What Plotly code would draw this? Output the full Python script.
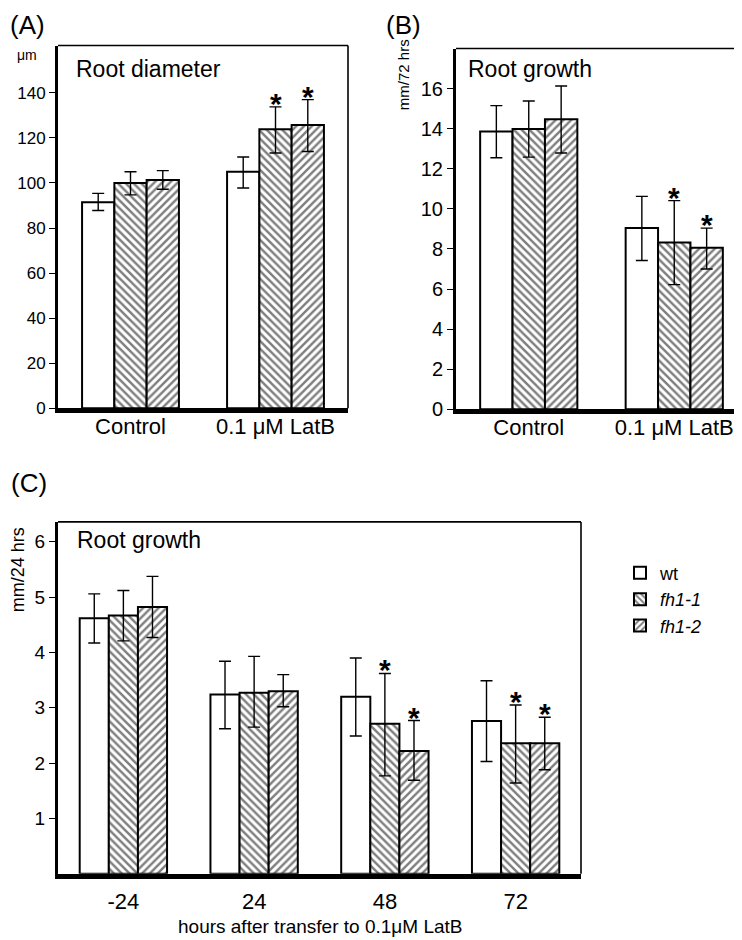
import plotly.graph_objects as go

W, H = 742, 940

# ---------------- data ----------------
series_names = ["wt", "<i>fh1-1</i>", "<i>fh1-2</i>"]

# Panel A: root diameter (µm)
A_cats = ["Control", "0.1 μM LatB"]
A_wt = [91.5, 105.0]
A_wt_hi = [95.4, 111.5]
A_wt_lo = [87.8, 97.8]
A_fh11 = [100.0, 123.8]
A_fh11_hi = [105.0, 133.8]
A_fh11_lo = [94.7, 113.3]
A_fh12 = [101.3, 125.7]
A_fh12_hi = [105.5, 137.0]
A_fh12_lo = [97.2, 114.0]
A_sig = [[False, False], [False, True], [False, True]]
A_ticks = [0, 20, 40, 60, 80, 100, 120, 140]

# Panel B: root growth (mm/72 hrs)
B_cats = ["Control", "0.1 μM LatB"]
B_wt = [13.86, 9.04]
B_wt_hi = [15.15, 10.62]
B_wt_lo = [12.55, 7.42]
B_fh11 = [13.98, 8.32]
B_fh11_hi = [15.38, 10.41]
B_fh11_lo = [12.58, 6.22]
B_fh12 = [14.47, 8.06]
B_fh12_hi = [16.13, 9.04]
B_fh12_lo = [12.79, 7.0]
B_sig = [[False, False], [False, True], [False, True]]
B_ticks = [0, 2, 4, 6, 8, 10, 12, 14, 16]

# Panel C: root growth (mm/24 hrs) vs hours after transfer
C_cats = ["-24", "24", "48", "72"]
C_wt = [4.62, 3.24, 3.20, 2.76]
C_wt_hi = [5.06, 3.84, 3.90, 3.49]
C_wt_lo = [4.17, 2.62, 2.49, 2.03]
C_fh11 = [4.67, 3.27, 2.71, 2.36]
C_fh11_hi = [5.12, 3.93, 3.62, 3.05]
C_fh11_lo = [4.21, 2.65, 1.77, 1.64]
C_fh12 = [4.82, 3.30, 2.22, 2.36]
C_fh12_hi = [5.375, 3.60, 2.77, 2.83]
C_fh12_lo = [4.27, 3.02, 1.69, 1.88]
C_sig = [[False, False, False, False], [False, False, True, True], [False, False, True, True]]
C_ticks = [1, 2, 3, 4, 5, 6]

# ---------------- styling ----------------
FONT = "Liberation Sans, Arial, sans-serif"
patterns = ["", "\\", "/"]
BARGAP = 0.332
BW = (1 - BARGAP) / 3.0


def px(x):
    return x / W


def py(y):
    return 1 - y / H


fig = go.Figure()
annotations = []
shapes = []


def add_panel(cats, vals, his, los, sigs, xa, ya, legend, star_size, star_shift):
    for j in range(3):
        v, hi, lo = vals[j], his[j], los[j]
        fig.add_trace(go.Bar(
            x=cats, y=v, name=series_names[j], xaxis=xa, yaxis=ya,
            marker=dict(color="white", line=dict(color="black", width=2),
                        pattern=dict(shape=patterns[j], fgcolor="black", bgcolor="white",
                                     size=5.5, solidity=0.45)),
            error_y=dict(type="data", symmetric=False,
                         array=[h - y for h, y in zip(hi, v)],
                         arrayminus=[y - l for y, l in zip(v, lo)],
                         color="black", thickness=1.4, width=6),
            showlegend=legend, legendgroup=str(j), hoverinfo="skip"))
        for i, s in enumerate(sigs[j]):
            if s:
                annotations.append(dict(
                    x=i + (j - 1) * BW, y=hi[i], xref=xa, yref=ya, text="<b>*</b>",
                    showarrow=False, yanchor="bottom", xanchor="center", yshift=star_shift,
                    font=dict(family=FONT, size=star_size, color="black")))
    # thin top and right frame lines
    xd = xa + " domain"
    yd = ya + " domain"
    shapes.append(dict(type="line", xref=xd, yref=yd, x0=0, x1=1, y0=1, y1=1,
                       line=dict(color="black", width=1.6)))
    shapes.append(dict(type="line", xref=xd, yref=yd, x0=1, x1=1, y0=0, y1=1,
                       line=dict(color="black", width=1.6)))


add_panel(A_cats, [A_wt, A_fh11, A_fh12], [A_wt_hi, A_fh11_hi, A_fh12_hi],
          [A_wt_lo, A_fh11_lo, A_fh12_lo], A_sig, "x", "y", False, 30, -15)
add_panel(B_cats, [B_wt, B_fh11, B_fh12], [B_wt_hi, B_fh11_hi, B_fh12_hi],
          [B_wt_lo, B_fh11_lo, B_fh12_lo], B_sig, "x2", "y2", False, 30, -15)
add_panel(C_cats, [C_wt, C_fh11, C_fh12], [C_wt_hi, C_fh11_hi, C_fh12_hi],
          [C_wt_lo, C_fh11_lo, C_fh12_lo], C_sig, "x3", "y3", True, 30, -15)


def xaxis(dom, anchor, ntick, size, standoff):
    return dict(domain=dom, anchor=anchor, type="category", range=[-0.5, ntick - 0.5],
                showline=True, linewidth=4.5, linecolor="black", ticks="", showgrid=False,
                zeroline=False, tickfont=dict(family=FONT, size=size, color="black"),
                ticklabelstandoff=standoff, fixedrange=True)


def yaxis(dom, anchor, rng, tickvals, size):
    return dict(domain=dom, anchor=anchor, range=rng, tickvals=tickvals,
                showline=True, linewidth=3, linecolor="black", ticks="outside",
                ticklen=6, tickwidth=1, tickcolor="black", showgrid=False, zeroline=False,
                tickfont=dict(family=FONT, size=size, color="black"), fixedrange=True)


# text annotations
def text(x, y, s, size, xanchor="left", angle=0):
    annotations.append(dict(x=px(x), y=py(y), xref="paper", yref="paper", text=s,
                            showarrow=False, xanchor=xanchor, yanchor="middle",
                            textangle=angle,
                            font=dict(family=FONT, size=size, color="black")))


text(0, 17, "(A)", 26)
text(376, 17, "(B)", 26)
text(1, 481, "(C)", 26)
text(19, 48, "μm", 14, xanchor="center")
text(66, 62, "Root diameter", 23)
text(458, 62, "Root growth", 23)
text(67, 538, "Root growth", 23)
text(395, 68, "mm/72 hrs", 15, xanchor="center", angle=-90)
text(10, 569, "mm/24 hrs", 18, xanchor="center", angle=-90)
text(312, 929, "hours after transfer to 0.1μM LatB", 19, xanchor="center")

fig.update_layout(
    width=W, height=H, margin=dict(l=0, r=0, t=0, b=0),
    paper_bgcolor="white", plot_bgcolor="white",
    barmode="group", bargap=BARGAP, bargroupgap=0,
    font=dict(family=FONT, color="black"),
    xaxis=xaxis([px(50), px(340)], "y", 2, 22, -5),
    yaxis=yaxis([py(405), py(38)], "x", [0, 161], A_ticks, 17),
    xaxis2=xaxis([px(448), px(739)], "y2", 2, 22, -5),
    yaxis2=yaxis([py(406), py(41)], "x2", [0, 18.0], B_ticks, 20),
    xaxis3=xaxis([px(50), px(573)], "y3", 4, 22, 4),
    yaxis3=yaxis([py(876), py(520)], "x3", [0, 6.36], C_ticks, 19),
    legend=dict(x=px(612), y=py(553), xanchor="left", yanchor="top",
                font=dict(family=FONT, size=18, color="black"),
                bgcolor="rgba(0,0,0,0)", tracegroupgap=0, itemwidth=30),
    annotations=annotations, shapes=shapes,
)

fig.write_html("out.html")
